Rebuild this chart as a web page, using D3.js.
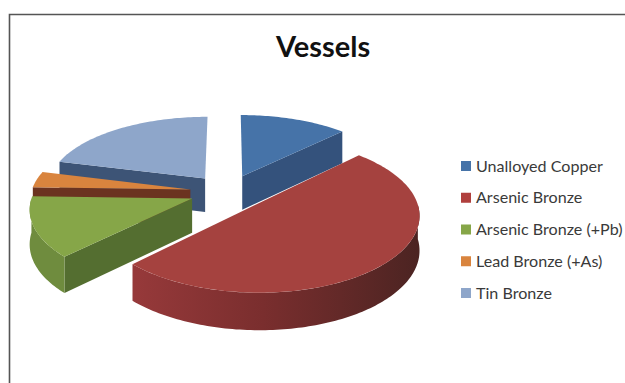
<!DOCTYPE html>
<html>
<head>
<meta charset="utf-8">
<script src="https://cdn.jsdelivr.net/npm/d3@7"></script>
<style>
  html, body { margin: 0; padding: 0; background: #fff; }
  svg { display: block; }
</style>
</head>
<body>
<div id="my_dataviz"></div>
<script>
var title = "Vessels";
var categories = ["Unalloyed Copper", "Arsenic Bronze", "Arsenic Bronze (+Pb)", "Lead Bronze (+As)", "Tin Bronze"];
var values = [12.5, 50, 13, 3.5, 21];

var topColors = ["#4673a8", "#a5423f", "#86a648", "#d9843e", "#8ea6ca"];
var sideColors = ["#34527c", "#7a2f2e", "#6f8c3e", "#7a4420", "#3d5476"];
var radialColors = ["#34527c", "#6b2b2a", "#546e30", "#6b3320", "#3d5476"];
var legendColors = ["#4673a8", "#b03f3d", "#86a648", "#d9843e", "#8ea6ca"];

var width = 625, height = 383;

var svg = d3.select("#my_dataviz")
  .append("svg")
    .attr("width", width)
    .attr("height", height);

// red wall gets darker to the right
var grad = svg.append("defs").append("linearGradient")
    .attr("id", "redWall")
    .attr("gradientUnits", "userSpaceOnUse")
    .attr("x1", 136).attr("x2", 418).attr("y1", 0).attr("y2", 0);
grad.append("stop").attr("offset", "0%").attr("stop-color", "#96393a");
grad.append("stop").attr("offset", "45%").attr("stop-color", "#7a2e2e");
grad.append("stop").attr("offset", "100%").attr("stop-color", "#4c2422");

// frame
svg.append("path")
    .attr("d", "M9.5," + height + "V14.5H" + width)
    .attr("fill", "none")
    .attr("stroke", "#555")
    .attr("stroke-width", 1.6);

svg.append("text")
    .attr("x", 323)
    .attr("y", 57)
    .attr("text-anchor", "middle")
    .attr("font-family", "Lato")
    .attr("font-weight", 700)
    .attr("font-size", 29)
    .attr("fill", "#111")
    .text(title);

// perspective of the tilted pie
var cx = 228, cy = 192, rx = 159, ry = 73, depth = 34, explode = 0.24;

function project(u, v, z) {
  var sx = 1 / (1 + 0.12 * v), sy = 1 / (1 + 0.13 * v), sz = 1 / (1 + 0.08 * v);
  return [cx + sx * u * rx, cy - sy * v * ry + sz * z];
}

var pie = d3.pie().sort(null).value(function(d) { return d; });
var slices = pie(values);
var line = d3.line();

function piePoint(d, a, r, z) {
  var mid = (d.startAngle + d.endAngle) / 2;
  var ox = explode * Math.sin(mid), oy = explode * Math.cos(mid);
  return project(ox + r * Math.sin(a), oy + r * Math.cos(a), z);
}

function angles(a0, a1) {
  var n = Math.max(2, Math.ceil((a1 - a0) / 0.02));
  return d3.range(n + 1).map(function(i) { return a0 + (a1 - a0) * i / n; });
}

function radialWall(d, i, a) {
  var pts = [piePoint(d, 0, 0, 0), piePoint(d, a, 1, 0), piePoint(d, a, 1, depth), piePoint(d, 0, 0, depth)];
  g.append("path")
    .attr("d", line(pts) + "Z")
    .attr("fill", radialColors[i]);
}

// back to front: tin, copper, lead, arsenic pb, arsenic
var order = [4, 0, 3, 2, 1];
var g = svg.append("g");

order.forEach(function(i) {
  var d = slices[i];

  // flat sides, only the ones facing the viewer
  if (Math.sin(d.startAngle) < -0.01) radialWall(d, i, d.startAngle);
  if (Math.sin(d.endAngle) > 0.01) radialWall(d, i, d.endAngle);

  // outer wall on the front half
  var a0 = Math.max(d.startAngle, Math.PI / 2), a1 = Math.min(d.endAngle, 3 * Math.PI / 2);
  if (a1 > a0) {
    var as = angles(a0, a1);
    var pts = as.map(function(a) { return piePoint(d, a, 1, 0); })
      .concat(as.slice().reverse().map(function(a) { return piePoint(d, a, 1, depth); }));
    g.append("path")
      .attr("d", line(pts) + "Z")
      .attr("fill", i === 1 ? "url(#redWall)" : sideColors[i]);
  }

  // top face
  var top = [piePoint(d, 0, 0, 0)].concat(angles(d.startAngle, d.endAngle).map(function(a) { return piePoint(d, a, 1, 0); }));
  g.append("path")
    .attr("d", line(top) + "Z")
    .attr("fill", topColors[i]);
});

// legend
var legendY = d3.scalePoint().domain(categories).range([166, 293]);
var legend = svg.append("g").selectAll("g")
  .data(categories)
  .enter().append("g")
    .attr("transform", function(d) { return "translate(461," + legendY(d) + ")"; });

legend.append("rect")
    .attr("y", -5)
    .attr("width", 10)
    .attr("height", 10)
    .attr("fill", function(d, i) { return legendColors[i]; });

legend.append("text")
    .attr("x", 15)
    .attr("dy", "0.35em")
    .attr("font-family", "Lato")
    .attr("font-size", 16.1)
    .attr("fill", "#3a3a3a")
    .text(function(d) { return d; });
</script>
</body>
</html>
